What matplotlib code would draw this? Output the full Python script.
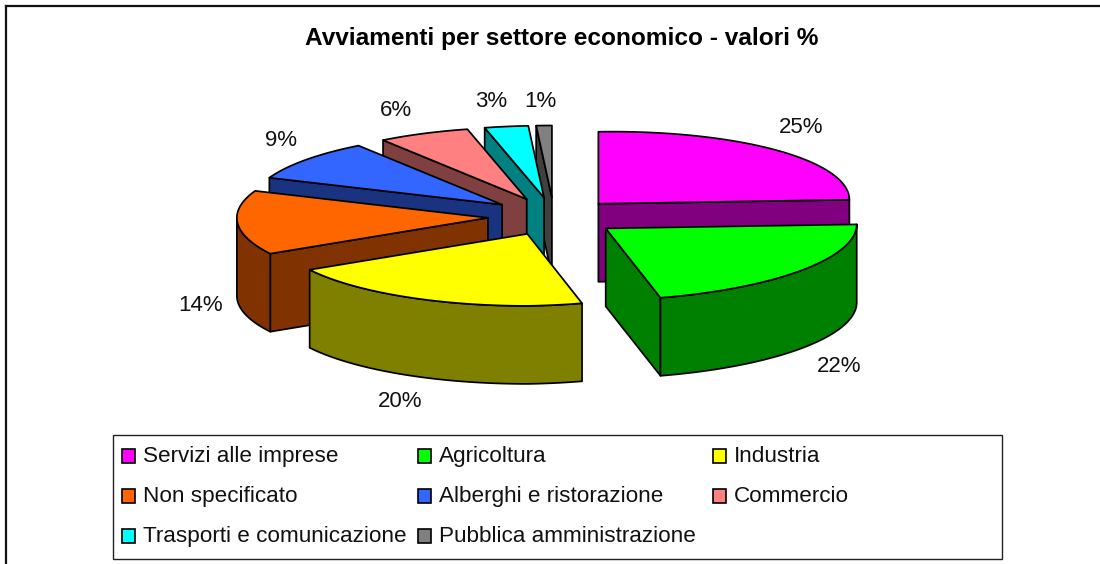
import matplotlib.pyplot as plt
import numpy as np

plt.rcParams['font.family'] = ['Liberation Sans', 'DejaVu Sans']

title = 'Avviamenti per settore economico - valori %'
sectors = ['Servizi alle imprese', 'Agricoltura', 'Industria', 'Non specificato',
           'Alberghi e ristorazione', 'Commercio', 'Trasporti e comunicazione',
           'Pubblica amministrazione']
values = [25, 21.5, 20.2, 14.4, 9.2, 5.9, 2.8, 1.0]
labels = ['25%', '22%', '20%', '14%', '9%', '6%', '3%', '1%']

top_colors = ['#FF00FF', '#00FF00', '#FFFF00', '#FF6600', '#3366FF', '#FF8080', '#00FFFF', '#808080']
side_colors = ['#800080', '#008000', '#808000', '#803300', '#1A3380', '#804040', '#008080', '#404040']

# layout, in pixels of the 1100x564 picture
cx, cy = 554, 216.5
rx, ry = 251, 72
depth = 78
tilt = 4
explode = [0.25, 0.264, 0.264, 0.264, 0.264, 0.264, 0.264, 0.264]
label_pos = [(801, 127.5), (839, 366.5), (400, 401.5), (201, 305.5),
             (281, 140.5), (396, 110.5), (491, 101.5), (540, 101.5)]
legend_x = [122, 418, 713]
legend_y = [456, 496, 536]
edge = 1.25


def arc(x0, y0, a1, a2):
    # angles in degrees, clockwise from 12 o'clock
    t = np.radians(np.linspace(a1, a2, max(int(a2 - a1) * 2, 2) + 1))
    # right half of the original sits a few pixels higher
    return x0 + rx * np.sin(t), y0 - ry * np.cos(t) - tilt * np.clip(np.sin(t), 0, 1)


def poly(ax, xs, ys, color):
    ax.fill(xs, ys, facecolor=color, edgecolor='black', linewidth=edge, joinstyle='round')


fig = plt.figure(figsize=(11, 5.64), dpi=100)
ax = fig.add_axes([0, 0, 1, 1])
ax.set_xlim(0, 1100)
ax.set_ylim(564, 0)
ax.axis('off')

# chart frame, only top and left are inside the picture
ax.plot([5.5, 5.5], [564, 6], color='#111111', lw=1.6)
ax.plot([5.5, 1100], [6, 6], color='#111111', lw=1.6)

ax.text(562, 38, title, ha='center', va='center', fontsize=17.6, fontweight='bold', color='black')

edges = np.cumsum([0] + values) / sum(values) * 360
# back slices first, so the front ones cover them
for i in [0, 7, 6, 5, 4, 3, 2, 1]:
    a1, a2 = edges[i], edges[i + 1]
    mid = np.radians((a1 + a2) / 2)
    x0 = cx + explode[i] * rx * np.sin(mid)
    y0 = cy - explode[i] * ry * np.cos(mid)

    # radial walls that face the viewer
    if a2 < 180:
        ex, ey = arc(x0, y0, a2, a2)
        poly(ax, [x0, ex[0], ex[0], x0], [y0, ey[0], ey[0] + depth, y0 + depth], side_colors[i])
    if a1 > 180:
        ex, ey = arc(x0, y0, a1, a1)
        poly(ax, [x0, ex[0], ex[0], x0], [y0, ey[0], ey[0] + depth, y0 + depth], side_colors[i])

    # outer wall, only the front half of the ellipse
    b1, b2 = max(a1, 90), min(a2, 270)
    if b1 < b2:
        ox, oy = arc(x0, y0, b1, b2)
        poly(ax, np.r_[ox, ox[::-1]], np.r_[oy, oy[::-1] + depth], side_colors[i])

    ox, oy = arc(x0, y0, a1, a2)
    poly(ax, np.r_[x0, ox], np.r_[y0, oy], top_colors[i])

for i in range(len(labels)):
    ax.text(label_pos[i][0], label_pos[i][1], labels[i], ha='center', va='center',
            fontsize=16, color='#111111')

# legend box
ax.add_patch(plt.Rectangle((113, 435), 889, 124, facecolor='white', edgecolor='#222222', linewidth=1.0))
for i in range(len(sectors)):
    lx = legend_x[i % 3]
    ly = legend_y[i // 3]
    ax.add_patch(plt.Rectangle((lx, ly - 7), 13, 14, facecolor=top_colors[i], edgecolor='black', linewidth=1.2))
    ax.text(lx + 21, ly + 0.8, sectors[i], ha='left', va='center', fontsize=16.2, color='#111111')

fig.savefig('out.png', dpi=100)
